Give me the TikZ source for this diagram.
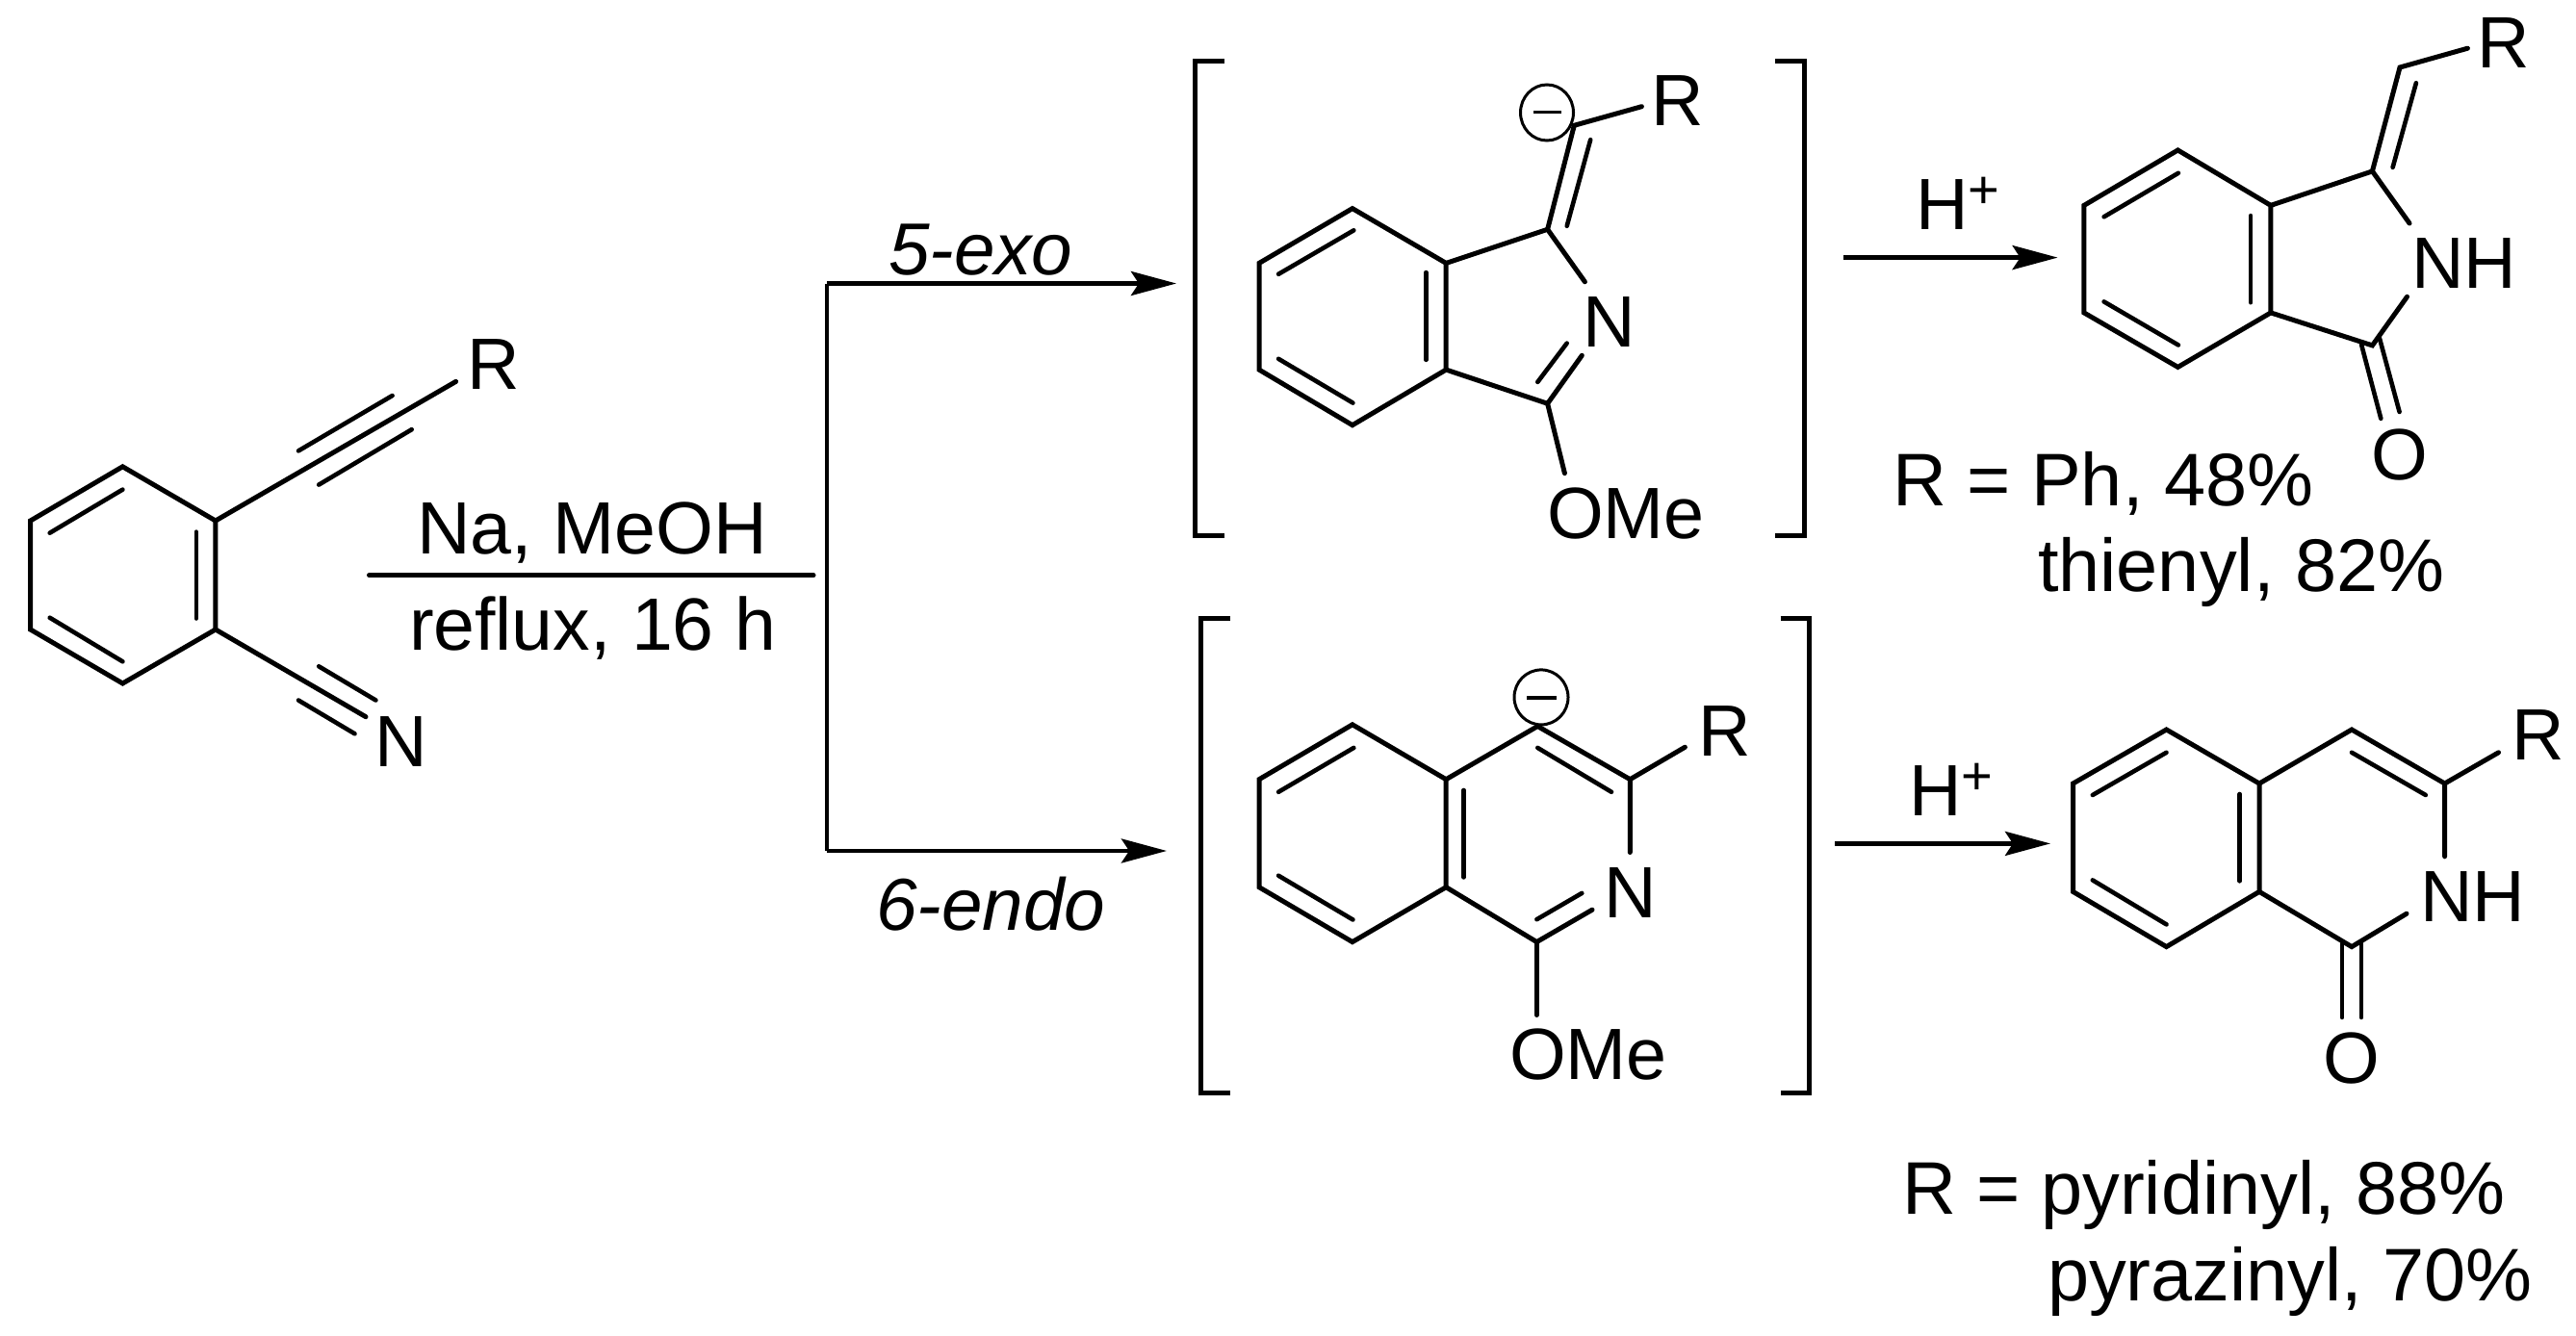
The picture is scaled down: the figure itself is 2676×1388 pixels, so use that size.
\documentclass[tikz,border=0pt]{standalone}
\usepackage{fontspec}
\setmainfont{Liberation Sans}
\usetikzlibrary{arrows.meta}
\tikzset{
  bond/.style={line width=5pt,line cap=round,line join=miter,black},
  thinbond/.style={line width=4.6pt,line cap=round,black},
  rule/.style={line width=5pt,line cap=round,black},
  brk/.style={line width=5pt,line cap=butt,line join=miter,black},
  arr/.style={line width=4.6pt,black,-{Stealth[length=47pt,width=25pt,inset=8pt]}},
  atom/.style={inner sep=0pt,outer sep=0pt,font=\fontsize{75.5}{75.5}\selectfont,text=black,anchor=base},
  lab/.style={atom,anchor=base west},
  condlab/.style={lab,font=\fontsize{77}{77}\selectfont},
  reslab/.style={lab,font=\fontsize{77.5}{77.5}\selectfont},
  itlab/.style={lab,font=\fontsize{76.5}{76.5}\selectfont\itshape},
  chg/.style={line width=3pt,black},
}
\newcommand{\Hplus}{H\raisebox{22pt}{\fontsize{56}{56}\selectfont +}}
\begin{document}
\begin{tikzpicture}[x=1pt,y=-1pt]
\useasboundingbox (0,0) rectangle (2676,1388);
\fill[white] (0,0) rectangle (2676,1388);

% --- starting material
\draw[bond] (127.4,484.8) -- (223.9,541) -- (223.9,654) -- (127.4,710) -- (31.6,654) -- (31.6,541) -- cycle;
\draw[thinbond] (127.4,508.6) -- (51.7,553.7);
\draw[thinbond] (203.8,552.6) -- (203.8,642.5);
\draw[thinbond] (51.7,641.7) -- (127.4,687.3);
\draw[bond] (223.9,541) -- (473.6,396.4);
\draw[thinbond] (310,468.4) -- (407.6,411);
\draw[thinbond] (331.2,503.6) -- (427.7,446.2);
\draw[bond] (223.9,654) -- (380,744.7);
\draw[thinbond] (331.2,692.3) -- (390.4,727.5);
\draw[thinbond] (310,727.5) -- (368.5,762.3);
\node[atom] (sR) at (513,404) {R};
\node[atom] (sN) at (417,796) {N};

% --- conditions and branch
\node[condlab] (cond1) at (433,575) {Na, MeOH};
\node[condlab] (cond2) at (425,675) {reflux, 16 h};
\coordinate (condA) at (383.5,597.7);
\coordinate (condB) at (845,597.7);
\draw[rule] (condA) -- (condB);
\coordinate (brTop) at (859,294.5);
\coordinate (brBot) at (859,884);
\coordinate (exoEnd) at (1222,294.5);
\coordinate (endoEnd) at (1212,884);
\draw[line width=4.6pt,black] (brTop) -- (brBot);
\draw[arr] (brTop) -- (exoEnd);
\draw[arr] (brBot) -- (endoEnd);
\node[itlab] (exo) at (923,285) {5-exo};
\node[itlab] (endo) at (910,966) {6-endo};

% --- exo intermediate
\draw[brk] (1272,63.4) -- (1241,63.4) -- (1241,556) -- (1272,556);
\draw[brk] (1844,63.4) -- (1874,63.4) -- (1874,556) -- (1844,556);
\draw[bond] (1404.9,216.6) -- (1502.2,273.4) -- (1502.2,384.1) -- (1404.9,441.7) -- (1308,384.1) -- (1308,273.4) -- cycle;
\draw[thinbond] (1406.3,239.3) -- (1328.1,284.8);
\draw[thinbond] (1481.3,283.1) -- (1481.3,373.8);
\draw[thinbond] (1328.1,372.8) -- (1405.4,418.6);
\draw[bond] (1502.2,273.4) -- (1607.6,238.3) -- (1646.4,292.8);
\draw[bond] (1502.2,384.1) -- (1607.6,419.3) -- (1643.3,369.3);
\draw[thinbond] (1597.3,396.9) -- (1627.7,356.6);
\draw[bond] (1607.6,238.3) -- (1635.3,130.3) -- (1705.4,110.7);
\draw[thinbond] (1627.7,234.8) -- (1652.2,145.2);
\draw[bond] (1607.6,419.3) -- (1625.4,491.7);
\node[atom] (aR) at (1743,131) {R};
\node[atom] (aN) at (1672,360) {N};
\node[lab] (aO) at (1607,559) {OMe};
\draw[chg] (1607,117) ellipse [x radius=27.5pt,y radius=29pt];
\draw[line width=3.6pt,black] (1593,116.6) -- (1622,116.6);

% --- endo intermediate
\draw[brk] (1278,642.4) -- (1247.8,642.4) -- (1247.8,1135.5) -- (1278,1135.5);
\draw[brk] (1849.5,642.4) -- (1879.5,642.4) -- (1879.5,1135.5) -- (1849.5,1135.5);
\draw[bond] (1404.9,752.8) -- (1502.2,809.7) -- (1502.2,921.7) -- (1404.9,978.6) -- (1308,921.7) -- (1308,809.7) -- cycle;
\draw[thinbond] (1406.3,776.9) -- (1328.1,822.8);
\draw[thinbond] (1520.5,821) -- (1520.5,911.4);
\draw[thinbond] (1328.1,909.7) -- (1405.4,955.5);
\draw[bond] (1502.2,809.7) -- (1597.3,754.5) -- (1693.3,809.7) -- (1693.3,885.5);
\draw[thinbond] (1597.3,776.9) -- (1674,822.8);
\draw[bond] (1502.2,921.7) -- (1596.4,978.6) -- (1654,945.2);
\draw[thinbond] (1596.4,955.2) -- (1643.3,927.9);
\draw[bond] (1693.3,809.7) -- (1750.4,776.2);
\draw[bond] (1596.4,978.6) -- (1596.4,1054.5);
\node[atom] (bR) at (1791.5,785) {R};
\node[atom] (bN) at (1693.5,953) {N};
\node[lab] (bO) at (1568,1121) {OMe};
\draw[chg] (1601,724.4) ellipse [x radius=28pt,y radius=28.5pt];
\draw[line width=3.6pt,black] (1586,724.8) -- (1616.5,724.8);

% --- H+ arrows
\coordinate (h1a) at (1914.9,267.6);
\coordinate (h1b) at (2137.6,267.6);
\draw[arr] (h1a) -- (h1b);
\node[lab] (h1) at (1990,239) {\Hplus};
\coordinate (h2a) at (1906,876.4);
\coordinate (h2b) at (2130,876.4);
\draw[arr] (h2a) -- (h2b);
\node[lab] (h2) at (1983,847.4) {\Hplus};

% --- exo product
\draw[bond] (2262.4,156) -- (2358.9,213.4) -- (2358.9,324.9) -- (2262.4,381.4) -- (2164.9,324.9) -- (2164.9,213.4) -- cycle;
\draw[thinbond] (2262.9,179.8) -- (2185.6,225.3);
\draw[thinbond] (2338.1,224.1) -- (2338.1,314.2);
\draw[thinbond] (2185.6,313.4) -- (2262.9,358.5);
\draw[bond] (2358.9,213.4) -- (2464.4,177.9) -- (2503,232);
\draw[bond] (2358.9,324.9) -- (2464.4,358.9) -- (2500.5,308.3);
\draw[bond] (2464.4,177.9) -- (2493,70) -- (2563.4,50.2);
\draw[thinbond] (2485.6,173.9) -- (2509.9,86.2);
\draw[thinbond] (2453,357.7) -- (2473.3,434.8);
\draw[thinbond] (2471.8,351) -- (2492.6,428);
\node[atom] (cR) at (2601,71) {R};
\node[lab] (cNH) at (2505,299) {NH};
\node[atom] (cO) at (2493,498) {O};
\node[reslab] (cT1) at (1966,525) {R = Ph, 48\%};
\node[reslab] (cT2) at (2117,614.6) {thienyl, 82\%};

% --- endo product
\draw[bond] (2250.5,758) -- (2347,814) -- (2347,926.4) -- (2250.5,983.6) -- (2153.5,926.4) -- (2153.5,814) -- cycle;
\draw[thinbond] (2250.5,781.8) -- (2173.8,826);
\draw[thinbond] (2326.7,825) -- (2326.7,915.3);
\draw[thinbond] (2173.8,914.4) -- (2250.5,960.4);
\draw[bond] (2347,814) -- (2443,758) -- (2539.6,814) -- (2539.6,889.8);
\draw[thinbond] (2443,781.8) -- (2519.8,826);
\draw[bond] (2347,926.4) -- (2443,983.6) -- (2500,949.2);
\draw[bond] (2539.6,814) -- (2595.5,781.8);
\draw[thinbond] (2433,980) -- (2433,1057);
\draw[thinbond] (2453,980) -- (2453,1057);
\node[atom] (dR) at (2636.5,789.4) {R};
\node[lab] (dNH) at (2514,957.7) {NH};
\node[atom] (dO) at (2443,1125) {O};
\node[reslab] (dT1) at (1976,1261.7) {R = pyridinyl, 88\%};
\node[reslab] (dT2) at (2127,1351) {pyrazinyl, 70\%};
\end{tikzpicture}
\end{document}
